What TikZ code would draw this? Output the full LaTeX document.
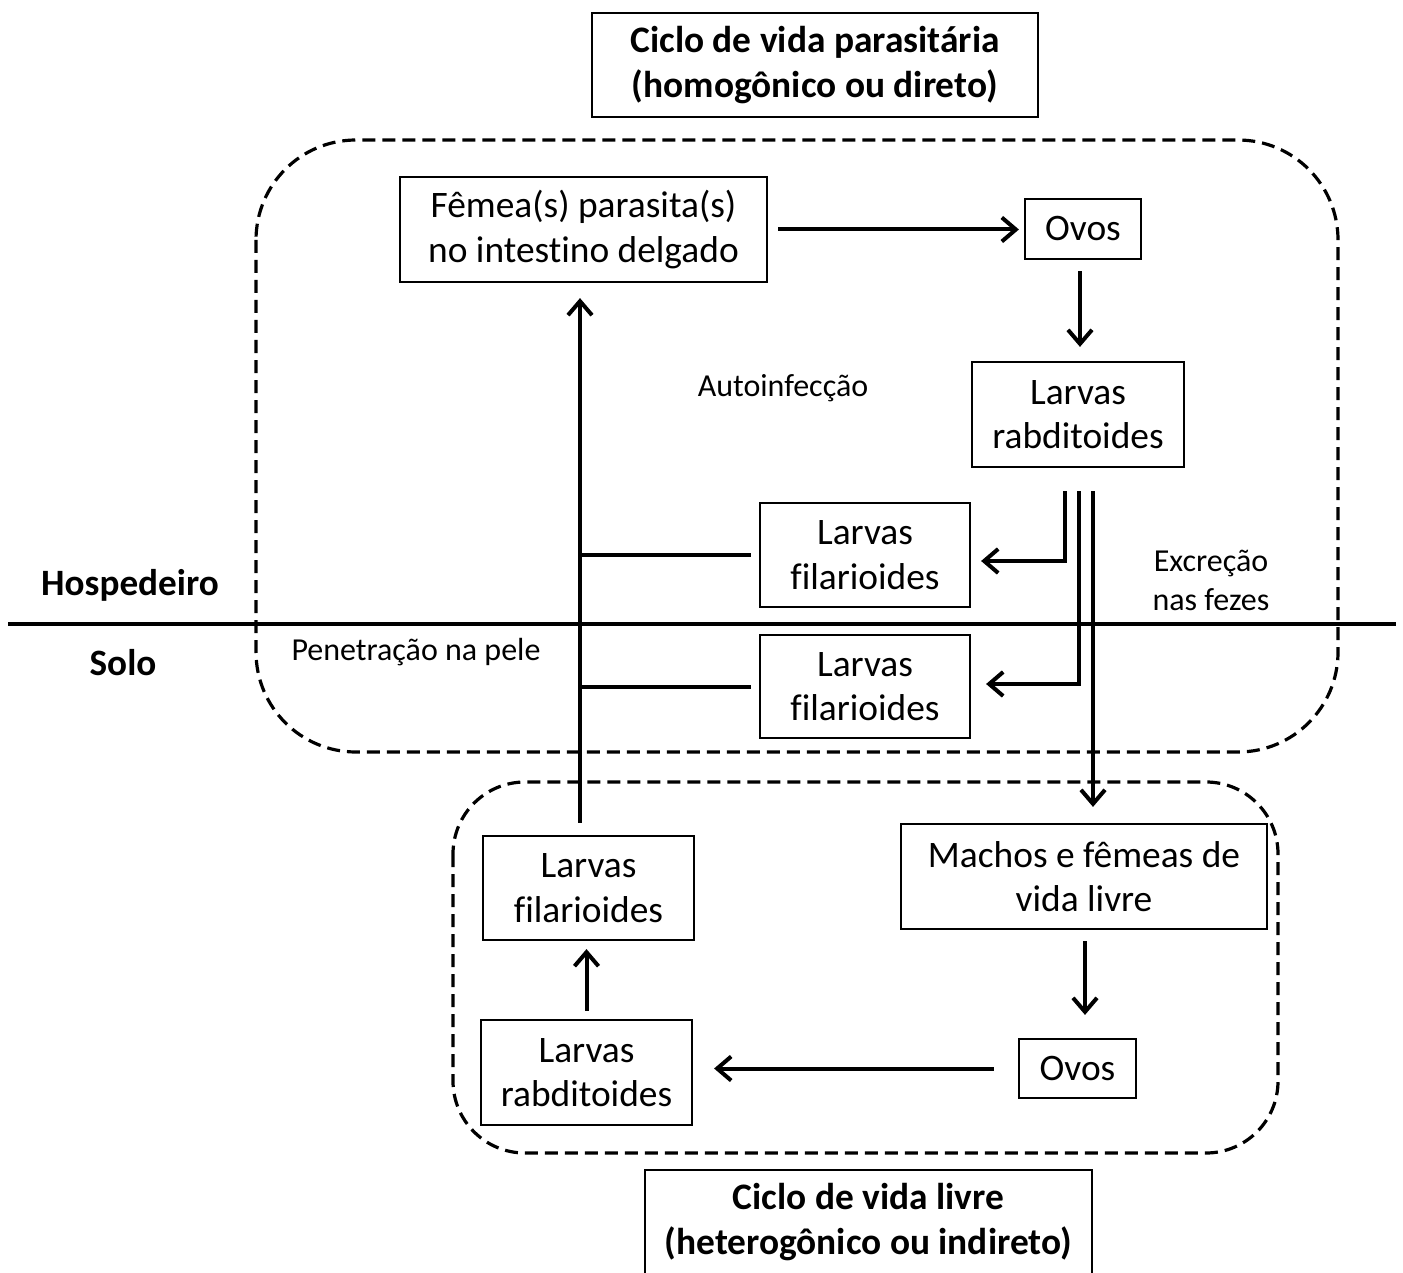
\documentclass[tikz,border=0pt]{standalone}
\usepackage{fontspec}
\setmainfont{Carlito}[Ligatures=NoCommon]
\usetikzlibrary{arrows.meta}
\begin{document}
\begin{tikzpicture}[x=0.5pt,y=-0.5pt,
 box/.style={draw, line width=1.1pt, align=center, inner sep=0pt, font=\fontsize{18.7}{22.2}\selectfont},
 titlebox/.style={box, font=\fontsize{18.7}{22.5}\selectfont\bfseries},
 lab/.style={align=center, inner sep=0pt, font=\fontsize{16}{19.5}\selectfont},
 side/.style={inner sep=0pt, font=\fontsize{18.6}{22}\selectfont\bfseries},
 arr/.style={line width=2pt, -{Straight Barb[length=7pt,width=12pt]}},
 conn/.style={line width=2pt},
 region/.style={draw, line width=1.6pt, dash pattern=on 6.5pt off 3.5pt},
]
\useasboundingbox (0,0) rectangle (1403,1273);
% regions
\draw[region, rounded corners=50pt] (256,140) rectangle (1338,752);
\draw[region, rounded corners=36pt] (453,782) rectangle (1278,1153);
% divider
\coordinate (hl) at (8,624);
\coordinate (hr) at (1396,624);
\draw[line width=2.4pt] (hl) -- (hr);
% titles
\node[titlebox, minimum width=223pt, minimum height=52pt] (t1) at (815,65) {Ciclo de vida parasitária\\(homogônico ou direto)};
\node[titlebox, minimum width=223.5pt, minimum height=52pt] (t2) at (868.5,1222) {Ciclo de vida livre\\(heterogônico ou indireto)};
% boxes
\node[box, minimum width=183.5pt, minimum height=52.5pt] (fem) at (583.5,229.5) {Fêmea(s) parasita(s)\\no intestino delgado};
\node[box, minimum width=58pt, minimum height=30pt] (ovos1) at (1083,229) {Ovos};
\node[box, minimum width=106pt, minimum height=52.5pt] (lr1) at (1078,414.5) {Larvas\\rabditoides};
\node[box, minimum width=105pt, minimum height=52pt] (lf1) at (865,555) {Larvas\\filarioides};
\node[box, minimum width=105pt, minimum height=51.5pt] (lf2) at (865,686.5) {Larvas\\filarioides};
\node[box, minimum width=105.5pt, minimum height=52pt] (lfb) at (588.5,888) {Larvas\\filarioides};
\node[box, minimum width=183pt, minimum height=52.5pt] (machos) at (1084,876.5) {Machos e fêmeas de\\vida livre};
\node[box, minimum width=58.5pt, minimum height=29.5pt] (ovos2) at (1077.5,1068.5) {Ovos};
\node[box, minimum width=105.5pt, minimum height=52.5pt] (lrb) at (586.5,1072.5) {Larvas\\rabditoides};
% labels
\node[lab] (auto) at (783,388) {Autoinfecção};
\node[lab] (excr) at (1211,580) {Excreção\\nas fezes};
\node[lab] (pen) at (416,652) {Penetração na pele};
\node[side] (hosp) at (130,585) {Hospedeiro};
\node[side] (solo) at (123,663) {Solo};
% connectors
\draw[arr, shorten <=5pt, shorten >=2.5pt] (fem.east) -- (fem.east -| ovos1.west);
\draw[arr] ([xshift=-1.5pt,yshift=-5.5pt]ovos1.south) -- ([xshift=1pt,yshift=7pt]lr1.north);
\draw[arr] ([xshift=-6.5pt,yshift=-11.5pt]lr1.south) |- ([xshift=5pt,yshift=-3pt]lf1.east);
\draw[arr] ([xshift=0.5pt,yshift=-11.5pt]lr1.south) |- ([xshift=7.5pt,yshift=1.25pt]lf2.east);
\draw[arr] ([xshift=7.5pt,yshift=-11.5pt]lr1.south) -- ([xshift=4.5pt,yshift=8pt]machos.north);
\coordinate (trunk) at (580,600);
\draw[arr] ([xshift=-4.25pt,yshift=6pt]lfb.north) -- ([xshift=-1.75pt,yshift=-7.5pt]fem.south);
\draw[conn] ([xshift=-4pt]lf1.west) -- (trunk |- lf1.west);
\draw[conn] ([xshift=-4pt]lf2.west) -- (trunk |- lf2.west);
\draw[arr] ([xshift=0.5pt,yshift=-5.5pt]machos.south) -- ([xshift=3.75pt,yshift=11.5pt]ovos2.north);
\draw[arr, shorten <=12pt, shorten >=10.5pt] (ovos2.west) -- (ovos2.west -| lrb.east);
\draw[arr, shorten <=4pt, shorten >=4pt] (lrb.north) -- (lrb.north |- lfb.south);
\end{tikzpicture}
\end{document}
